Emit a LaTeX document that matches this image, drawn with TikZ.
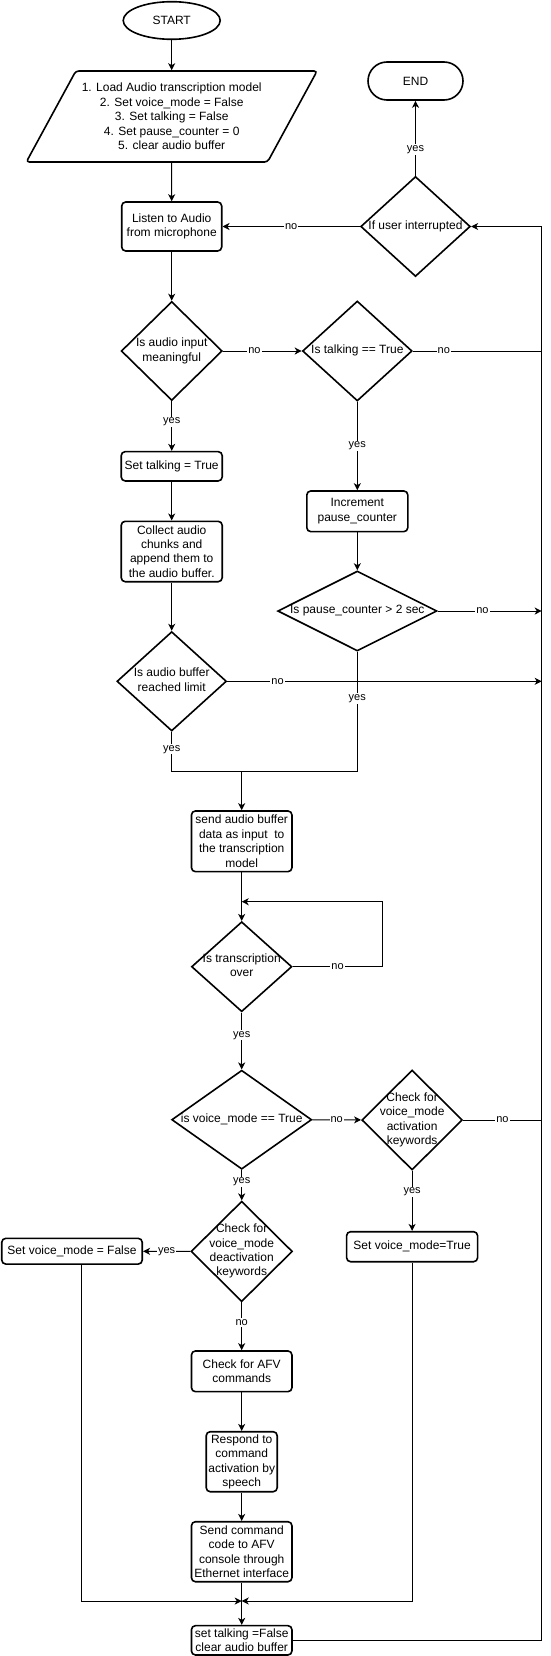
\documentclass[tikz,border=0pt]{standalone}
\usepackage{fontspec}
\setmainfont{Liberation Sans}
\usetikzlibrary{shapes.geometric}
\usetikzlibrary{arrows.meta}
\usetikzlibrary{calc}

% text that does not widen a diamond
\newcommand{\dtxt}[1]{\smash{\raisebox{-3pt}{\makebox[0pt]{\begin{tabular}{@{}c@{}}#1\end{tabular}}}}}

\begin{document}
\begin{tikzpicture}[x=1pt, y=-1pt, >={Stealth[length=7pt, width=7pt, inset=2pt]}, line width=1pt,
    every node/.style={font=\fontsize{12}{14.4}\selectfont},
    box/.style={draw, rectangle, rounded corners=4pt, line width=1.6pt, align=center, inner sep=1pt},
    dec/.style={draw, diamond, line width=1.6pt, inner sep=0pt},
    lbl/.style={fill=white, inner sep=1pt, font=\fontsize{11}{13}\selectfont}]
      \useasboundingbox (0,0) rectangle (550,1656);

      \node at (171.7,20.5) [draw, ellipse, line width=1.6pt, minimum width=97pt, minimum height=37.6pt, inner sep=0pt, name=start] {START};

      \node at (171.7,116.5) [draw, trapezium, trapezium left angle=56.6, trapezium right angle=123.4,
      trapezium stretches=true, rounded corners=3pt, line width=1.6pt, minimum width=291.6pt, minimum height=91pt,
      align=center, name=init]
      {1. Load Audio transcription model\\2. Set voice\_mode = False\\3. Set talking = False\\4. Set pause\_counter = 0\\5. clear audio buffer};

      \node at (171.7,226.5) [box, minimum width=100pt, minimum height=49pt, name=listen] {Listen to Audio\\from microphone};

      \node at (415.5,81) [draw, rectangle, rounded corners=19pt, line width=1.6pt, minimum width=95pt, minimum height=38pt, name=stop] {END};

      \node at (415.5,226.5) [dec, minimum width=109.6pt, minimum height=100pt, name=interrupt] {\dtxt{If user interrupted}};

      \node at (171.7,351) [dec, minimum width=101pt, minimum height=99pt, name=meaning] {\dtxt{Is audio input\\meaningful}};

      \node at (357.3,351) [dec, minimum width=109.6pt, minimum height=100pt, name=talking] {\dtxt{Is talking == True}};

      \node at (171.7,466.3) [box, minimum width=101pt, minimum height=29.3pt, name=settalk] {Set talking = True};

      \node at (171.7,551.5) [box, minimum width=101pt, minimum height=60.4pt, name=collect]
      {Collect audio\\chunks and\\append them to\\the audio buffer.};

      \node at (357.3,511.3) [box, minimum width=101pt, minimum height=40.7pt, name=incr] {Increment\\pause\_counter};

      \node at (357.3,611) [dec, minimum width=159.2pt, minimum height=80pt, name=pause] {\dtxt{Is pause\_counter {\char`>} 2 sec}};

      \node at (171.7,681.3) [dec, minimum width=109.6pt, minimum height=99.4pt, name=bufflim] {\dtxt{Is audio buffer\\reached limit}};

      \node at (241.7,841.3) [box, minimum width=100.5pt, minimum height=60.7pt, name=sendbuf]
      {send audio buffer\\data as input~ to\\the transcription\\model};

      \node at (241.7,966.7) [dec, minimum width=100.4pt, minimum height=90pt, name=transc] {\dtxt{Is transcription\\over}};

      \node at (241.7,1119.7) [dec, minimum width=140pt, minimum height=99pt, name=vmode] {\dtxt{is voice\_mode == True}};

      \node at (412.1,1120) [dec, minimum width=100.6pt, minimum height=100pt, name=activ]
      {\dtxt{Check for\\voice\_mode\\activation\\keywords}};

      \node at (412.1,1246.7) [box, minimum width=131pt, minimum height=30pt, name=vmtrue] {Set voice\_mode=True};

      \node at (241.7,1251.4) [dec, minimum width=101.4pt, minimum height=100.5pt, name=deact]
      {\dtxt{Check for\\voice\_mode\\deactivation\\keywords}};

      \node at (72,1251.2) [box, minimum width=140.5pt, minimum height=25.7pt, name=vmfalse] {Set voice\_mode = False};

      \node at (241.7,1371.3) [box, minimum width=100.5pt, minimum height=40.7pt, name=afv] {Check for AFV\\commands};

      \node at (241.7,1461.7) [box, minimum width=71pt, minimum height=60pt, name=respond]
      {Respond to\\command\\activation by\\speech};

      \node at (241.7,1551.7) [box, minimum width=100.5pt, minimum height=60pt, name=sendcmd]
      {Send command\\code to AFV\\console through\\Ethernet interface};

      \node at (241.7,1640.3) [box, minimum width=100.5pt, minimum height=29.3pt, name=final]
      {set talking =False\\clear audio buffer};

      \coordinate (rtop) at (541.7,226.5);
      \coordinate (join) at (241.7,771.7);
      \coordinate (loopr) at (382.3,901.7);
      \coordinate (loopin) at (241.7,901.7);
      \coordinate (merge) at (241.7,1601);

      \draw [->] (start) -- (init);
      \draw [->] (init) -- (listen);
      \draw [->] (listen) -- (meaning);
      \draw [->] (interrupt) -- node[lbl] {no} (listen);
      \draw [->] (interrupt) -- node[lbl, pos=0.35] {yes} (stop);

      \draw [->] (meaning) -- node[lbl, pos=0.4] {no} (talking);
      \draw (talking.east) -- node[lbl, pos=0.24] {no} (talking.east -| rtop);
      \draw [->] (meaning) -- node[lbl, pos=0.42] {yes} (settalk);
      \draw [->] (talking) -- node[lbl] {yes} (incr);
      \draw [->] (settalk) -- (collect);
      \draw [->] (incr) -- (pause);
      \draw [->] (collect) -- (bufflim);

      \draw [->] (pause.east) -- node[lbl, pos=0.43] {no} (pause.east -| rtop);
      \draw (pause) -- node[lbl, pos=0.39] {yes} (pause |- join) -- (join);
      \draw [->] (bufflim.east) -- node[lbl, pos=0.16] {no} (bufflim.east -| rtop);
      \draw (bufflim) -- node[lbl, pos=0.44] {yes} (bufflim |- join) -- (join);
      \draw [->] (join) -- (sendbuf);

      \draw [->] (sendbuf) -- (transc);
      \draw [->] (transc.east) -- node[lbl] {no} (transc.east -| loopr) |- (loopin);
      \draw [->] (transc) -- node[lbl, pos=0.4] {yes} (vmode);

      \draw [->] (vmode) -- node[lbl] {no} (activ);
      \draw (activ.east) -- node[lbl] {no} (activ.east -| rtop);
      \draw [->] (activ) -- node[lbl, pos=0.35] {yes} (vmtrue);
      \draw [->] (vmode) -- node[lbl, pos=0.4] {yes} (deact);
      \draw [->] (deact) -- node[lbl] {yes} (vmfalse);
      \draw [->] (deact) -- node[lbl, pos=0.42] {no} (afv);

      \draw [->] (afv) -- (respond);
      \draw [->] (respond) -- (sendcmd);
      \draw [->] (sendcmd) -- (final);
      \draw [->] ([xshift=9pt]vmfalse.south) |- (merge);
      \draw [->] (vmtrue) |- (merge);

      \draw [->] (final) -- (final -| rtop) -- (rtop) -- (interrupt);
\end{tikzpicture}
\end{document}
